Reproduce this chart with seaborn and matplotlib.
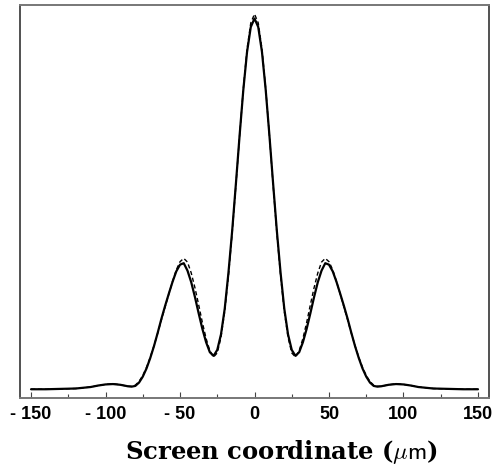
import numpy as np
import matplotlib
matplotlib.use("Agg")
import matplotlib.pyplot as plt
from matplotlib.ticker import FixedLocator, FuncFormatter
import seaborn as sns

# screen coordinate (um) and the two intensity profiles
x_um = [-150, -140, -130, -120, -110, -105, -100, -95, -90, -87.5, -85, -82.5,
        -80, -77.5, -75, -72.5, -70, -67.5, -65, -62.5, -60, -57.5, -55, -52.5,
        -50, -47.5, -45, -42.5, -40, -37.5, -35, -32.5, -30, -27.5, -25, -22.5,
        -20, -17.5, -15, -12.5, -10, -7.5, -5, -2.5,
        0,
        2.5, 5, 7.5, 10, 12.5, 15, 17.5, 20, 22.5, 25, 27.5, 30, 32.5, 35, 37.5,
        40, 42.5, 45, 47.5, 50, 52.5, 55, 57.5, 60, 62.5, 65, 67.5, 70, 72.5,
        75, 77.5, 80,
        82.5, 85, 87.5, 90, 95, 100, 105, 110, 120, 130, 140, 150]

solid = [0.000, 0.000, 0.001, 0.002, 0.006, 0.010, 0.013, 0.014, 0.012, 0.010, 0.008, 0.007,
         0.009, 0.018, 0.034, 0.056, 0.084, 0.116, 0.152, 0.190, 0.225, 0.258, 0.290, 0.318,
         0.336, 0.340, 0.320, 0.289, 0.249, 0.205, 0.163, 0.127, 0.100, 0.090, 0.106, 0.148,
         0.217, 0.314, 0.427, 0.554, 0.685, 0.808, 0.910, 0.977,
         1.000,
         0.977, 0.910, 0.808, 0.685, 0.554, 0.427, 0.314, 0.217, 0.148, 0.106, 0.090, 0.100,
         0.127, 0.163, 0.205, 0.249, 0.289, 0.320, 0.340, 0.336, 0.318, 0.290, 0.258, 0.225,
         0.190, 0.152, 0.116, 0.084, 0.056, 0.034, 0.018, 0.009,
         0.007, 0.008, 0.010, 0.012, 0.014, 0.013, 0.010, 0.006, 0.002, 0.001, 0.000, 0.000]

dashed = [0.000, 0.000, 0.001, 0.002, 0.006, 0.010, 0.013, 0.015, 0.012, 0.010, 0.008, 0.008,
          0.011, 0.021, 0.037, 0.059, 0.086, 0.117, 0.151, 0.187, 0.222, 0.257, 0.291, 0.322,
          0.344, 0.353, 0.343, 0.314, 0.274, 0.228, 0.180, 0.137, 0.104, 0.087, 0.098, 0.140,
          0.210, 0.306, 0.421, 0.550, 0.684, 0.811, 0.918, 0.988,
          1.012,
          0.988, 0.918, 0.811, 0.684, 0.550, 0.421, 0.306, 0.210, 0.140, 0.098, 0.087, 0.104,
          0.137, 0.180, 0.228, 0.274, 0.314, 0.343, 0.353, 0.344, 0.322, 0.291, 0.257, 0.222,
          0.187, 0.151, 0.117, 0.086, 0.059, 0.037, 0.021, 0.011,
          0.008, 0.008, 0.010, 0.012, 0.015, 0.013, 0.010, 0.006, 0.002, 0.001, 0.000, 0.000]

major_ticks = [-150, -100, -50, 0, 50, 100, 150]
minor_ticks = [-125, -75, -25, 25, 75, 125]

sns.set_style("white")
plt.rcParams['mathtext.fontset'] = 'cm'
plt.rcParams['text.color'] = 'black'
plt.rcParams['xtick.color'] = 'black'

fig = plt.figure(figsize=(4.93, 4.66), dpi=100)
ax = fig.add_axes([0.0406, 0.146, 0.9513, 0.843])

sns.lineplot(x=x_um, y=solid, ax=ax, color='black', lw=1.6)
sns.lineplot(x=x_um, y=dashed, ax=ax, color='black', lw=1.0, linestyle=(0, (3, 2)))

ax.set_xlim(-157.4, 157.4)
ax.set_ylim(-0.0235, 1.036)

ax.xaxis.set_major_locator(FixedLocator(major_ticks))
ax.xaxis.set_minor_locator(FixedLocator(minor_ticks))
ax.xaxis.set_major_formatter(FuncFormatter(lambda v, p: "- %d" % -v if v < 0 else "%d" % v))
ax.tick_params(axis='x', which='both', direction='in', bottom=True, top=False,
               color='#444444', labelcolor='black', width=0.8, pad=6)
ax.tick_params(axis='x', which='major', length=4)
ax.tick_params(axis='x', which='minor', length=3)
ax.set_yticks([])
for lab in ax.get_xticklabels():
    lab.set_fontfamily('Liberation Sans')
    lab.set_fontweight('bold')
    lab.set_fontsize(13)

for side in ['top', 'bottom']:
    ax.spines[side].set_color('#777777')
    ax.spines[side].set_linewidth(1.4)
for side in ['left', 'right']:
    ax.spines[side].set_color('#333333')
    ax.spines[side].set_linewidth(1.2)

ax.set_xlabel("")
ax.set_ylabel("")
fig.text(281.5 / 493, 1 - 452 / 466, r"Screen coordinate ($\mu\mathsf{m}$)",
         family='DejaVu Serif', weight='bold', fontsize=17.5, color='black',
         ha='center', va='center')

fig.savefig("out.png", dpi=100)
